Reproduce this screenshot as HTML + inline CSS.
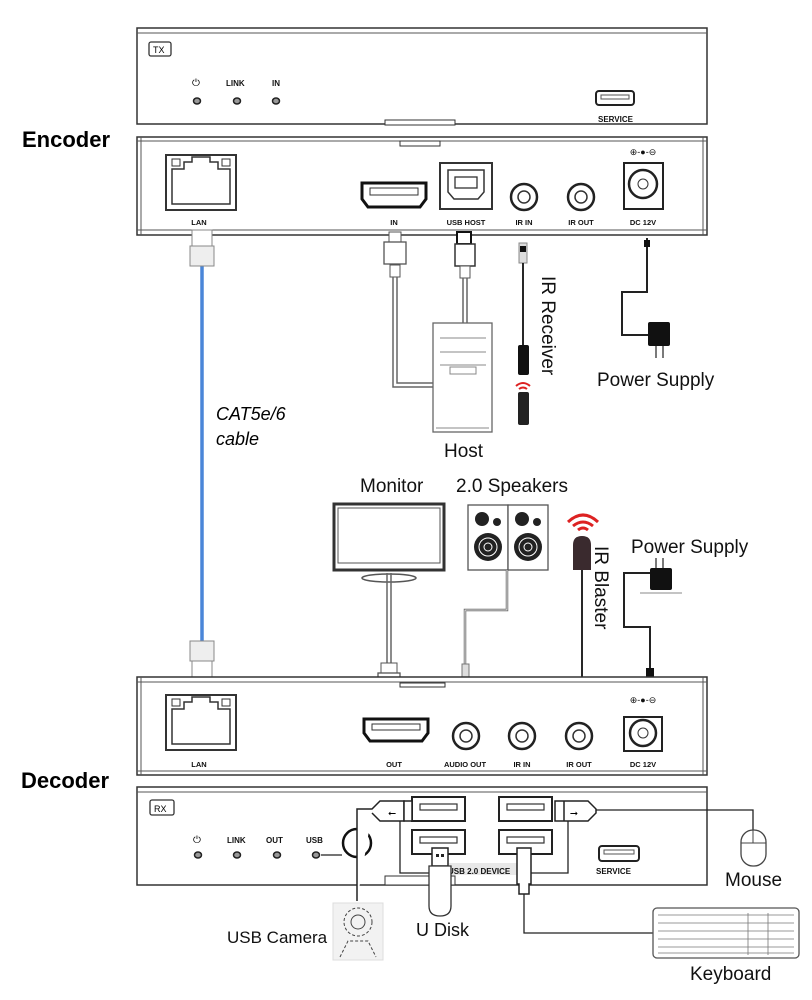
<!DOCTYPE html>
<html><head><meta charset="utf-8"><style>
html,body{margin:0;padding:0;background:#fff;}
svg{display:block;font-family:"Liberation Sans",Arial,sans-serif;}
.s{font-size:8px;font-weight:bold;fill:#111;}
.t{font-size:7.5px;font-weight:bold;fill:#111;text-anchor:middle;}
.l{font-size:19px;fill:#111;}
</style></head><body>
<svg width="812" height="1000" viewBox="0 0 812 1000" xmlns="http://www.w3.org/2000/svg">
<!-- TX front -->
<rect x="137" y="28" width="570" height="96" fill="#fff" stroke="#333" stroke-width="1.5"/>
<line x1="137" y1="33" x2="707" y2="33" stroke="#555"/>
<rect x="385" y="120" width="70" height="5" fill="#fff" stroke="#333"/>
<rect x="149" y="42" width="22" height="14" rx="2" fill="#fff" stroke="#333" stroke-width="1.3"/>
<text x="153" y="53" style="font-size:9px">TX</text>
<text x="192" y="86" style="font-size:10px">⏻</text>
<text x="226" y="86" class="s">LINK</text><text x="272" y="86" class="s">IN</text>
<g fill="#999" stroke="#222" stroke-width="1.5"><ellipse cx="197" cy="101" rx="3.5" ry="3"/><ellipse cx="237" cy="101" rx="3.5" ry="3"/><ellipse cx="276" cy="101" rx="3.5" ry="3"/></g>
<rect x="596" y="91" width="38" height="14" rx="3" fill="#fff" stroke="#222" stroke-width="2"/>
<rect x="601" y="95" width="28" height="4" fill="#fff" stroke="#555"/>
<text x="598" y="122" class="s">SERVICE</text>
<text x="22" y="147" style="font-size:22px;font-weight:bold">Encoder</text>
<!-- Encoder rear -->
<rect x="137" y="137" width="570" height="98" fill="#fff" stroke="#333" stroke-width="1.5"/>
<line x1="137" y1="141" x2="707" y2="141" stroke="#555"/><line x1="137" y1="230" x2="707" y2="230" stroke="#555"/>
<line x1="141" y1="137" x2="141" y2="235" stroke="#555"/><line x1="703" y1="137" x2="703" y2="235" stroke="#555"/>
<rect x="400" y="141" width="40" height="5" fill="#fff" stroke="#333"/>
<rect x="166" y="155" width="70" height="55" fill="#fff" stroke="#333" stroke-width="2"/>
<path d="M172 204V169h12v-7h8v-5h18v5h8v7h12v35z" fill="none" stroke="#333" stroke-width="1.5"/>
<rect x="172" y="159" width="8" height="7" fill="none" stroke="#333"/><rect x="222" y="159" width="8" height="7" fill="none" stroke="#333"/>
<text x="199" y="225" class="t">LAN</text>
<path d="M362 183h64v16l-6 8h-52l-6-8z" fill="#fff" stroke="#111" stroke-width="3"/>
<rect x="370" y="188" width="48" height="7" fill="#fff" stroke="#333"/>
<text x="394" y="225" class="t">IN</text>
<rect x="440" y="163" width="52" height="46" fill="#fff" stroke="#333" stroke-width="2"/>
<path d="M448 170h36v22l-6 7h-24l-6-7z" fill="none" stroke="#333" stroke-width="1.5"/>
<rect x="455" y="177" width="22" height="11" fill="none" stroke="#333" stroke-width="1.3"/>
<text x="466" y="225" class="t">USB HOST</text>
<circle cx="524" cy="197" r="13" fill="#fff" stroke="#222" stroke-width="2.5"/><circle cx="524" cy="197" r="6" fill="#fff" stroke="#333" stroke-width="1.5"/>
<circle cx="581" cy="197" r="13" fill="#fff" stroke="#222" stroke-width="2.5"/><circle cx="581" cy="197" r="6" fill="#fff" stroke="#333" stroke-width="1.5"/>
<text x="524" y="225" class="t">IR IN</text><text x="581" y="225" class="t">IR OUT</text>
<rect x="624" y="163" width="39" height="46" fill="#fff" stroke="#222" stroke-width="2"/>
<circle cx="643" cy="184" r="14" fill="#fff" stroke="#222" stroke-width="2.5"/><circle cx="643" cy="184" r="5" fill="#fff" stroke="#333"/>
<text x="643" y="155" class="t" style="font-weight:normal;font-size:9px">⊕-●-⊖</text>
<text x="643" y="225" class="t">DC 12V</text>
<!-- LAN cable -->
<line x1="202" y1="265" x2="202" y2="645" stroke="#4a86d8" stroke-width="3.5"/>
<rect x="192" y="230" width="20" height="16" fill="#fff" stroke="#888"/>
<rect x="190" y="246" width="24" height="20" fill="#eee" stroke="#888"/>
<rect x="190" y="641" width="24" height="20" fill="#eee" stroke="#888"/>
<rect x="192" y="661" width="20" height="18" fill="#fff" stroke="#888"/>
<text x="216" y="420" style="font-size:18px;font-style:italic">CAT5e/6</text>
<text x="216" y="445" style="font-size:18px;font-style:italic">cable</text>
<!-- HDMI cable to host -->
<rect x="389" y="232" width="12" height="10" fill="#fff" stroke="#555"/>
<rect x="384" y="242" width="22" height="22" fill="#fff" stroke="#555" stroke-width="1.3"/>
<rect x="390" y="265" width="10" height="12" fill="#fff" stroke="#555"/>
<path d="M393 277V387H433M397 277V383H433" fill="none" stroke="#666" stroke-width="1.5"/>
<rect x="457" y="232" width="14" height="12" fill="#fff" stroke="#111" stroke-width="2"/>
<rect x="455" y="244" width="20" height="22" fill="#fff" stroke="#333" stroke-width="1.5"/>
<rect x="460" y="266" width="10" height="12" fill="#fff" stroke="#555"/>
<path d="M463 278V323M467 278V323" stroke="#666" stroke-width="1.5"/>
<rect x="433" y="323" width="59" height="109" fill="#fff" stroke="#666" stroke-width="1.3"/>
<line x1="440" y1="338" x2="486" y2="338" stroke="#888"/><line x1="440" y1="352" x2="486" y2="352" stroke="#888"/><line x1="440" y1="365" x2="486" y2="365" stroke="#888"/>
<rect x="450" y="367" width="26" height="7" fill="none" stroke="#888"/>
<line x1="436" y1="428" x2="489" y2="428" stroke="#888"/>
<text x="444" y="457" class="l">Host</text>
<!-- IR receiver -->
<rect x="519" y="243" width="8" height="20" fill="#ddd" stroke="#888"/><rect x="520" y="246" width="6" height="6" fill="#111"/>
<line x1="523" y1="263" x2="523" y2="345" stroke="#111" stroke-width="1.8"/>
<rect x="518" y="345" width="11" height="30" rx="2" fill="#111"/>
<path d="M516 386q7-6 14 0M519 389q4-3 8 0" fill="none" stroke="#d22" stroke-width="2"/>
<rect x="518" y="392" width="11" height="33" rx="2" fill="#222"/>
<text transform="translate(542,276) rotate(90)" class="l">IR Receiver</text>
<!-- Power supply 1 -->
<path d="M647 238V292H622V335H650" fill="none" stroke="#222" stroke-width="2"/>
<rect x="644" y="240" width="6" height="7" fill="#111"/>
<rect x="648" y="322" width="22" height="24" rx="2" fill="#111"/>
<path d="M656 346v12M663 346v12" stroke="#333" stroke-width="1.3"/>
<text x="597" y="386" class="l">Power Supply</text>
<!-- Monitor -->
<text x="360" y="492" class="l">Monitor</text>
<rect x="334" y="504" width="110" height="66" fill="#fff" stroke="#333" stroke-width="3"/>
<rect x="338" y="508" width="102" height="55" fill="#fff" stroke="#555"/>
<ellipse cx="389" cy="578" rx="27" ry="4" fill="#fff" stroke="#555" stroke-width="1.5"/>
<path d="M387 573V665M391 573V665" stroke="#666" stroke-width="1.5"/>
<rect x="381" y="663" width="16" height="10" fill="#fff" stroke="#555"/>
<rect x="378" y="673" width="22" height="24" fill="#fff" stroke="#555" stroke-width="1.3"/>
<rect x="383" y="697" width="12" height="14" fill="#fff" stroke="#555"/>
<!-- speakers -->
<text x="456" y="492" class="l">2.0 Speakers</text>
<rect x="468" y="505" width="40" height="65" fill="#fff" stroke="#555" stroke-width="1.3"/>
<rect x="508" y="505" width="40" height="65" fill="#fff" stroke="#555" stroke-width="1.3"/>
<g fill="#222"><circle cx="482" cy="519" r="7"/><circle cx="497" cy="522" r="4"/><circle cx="488" cy="547" r="14"/><circle cx="522" cy="519" r="7"/><circle cx="537" cy="522" r="4"/><circle cx="528" cy="547" r="14"/></g>
<g fill="none" stroke="#fff"><circle cx="488" cy="547" r="9"/><circle cx="488" cy="547" r="4"/><circle cx="528" cy="547" r="9"/><circle cx="528" cy="547" r="4"/></g>
<path d="M507 570V610H465V665" fill="none" stroke="#666" stroke-width="2.5"/>
<path d="M507 570V610H465V665" fill="none" stroke="#fff" stroke-width="0.8"/>
<rect x="462" y="664" width="7" height="36" fill="#ddd" stroke="#777"/><rect x="463" y="683" width="5" height="14" fill="#222"/>
<!-- IR blaster -->
<path d="M568 522q15-14 30 0M573 526q10-8 20 0M578 530q5-4 10 0" fill="none" stroke="#d22" stroke-width="3"/>
<path d="M573 570v-25q0-9 9-9t9 9v25z" fill="#3a2a2e"/>
<line x1="582" y1="570" x2="582" y2="685" stroke="#111" stroke-width="1.8"/>
<rect x="578" y="688" width="8" height="12" fill="#111"/>
<text transform="translate(595,546) rotate(90)" class="l">IR Blaster</text>
<!-- Power supply 2 -->
<text x="631" y="553" class="l">Power Supply</text>
<path d="M650 573H624V627H650V675" fill="none" stroke="#222" stroke-width="2"/>
<rect x="650" y="568" width="22" height="22" rx="2" fill="#111"/>
<path d="M656 568v-10M663 568v-10" stroke="#333" stroke-width="1.3"/>
<line x1="640" y1="593" x2="682" y2="593" stroke="#888"/>
<rect x="646" y="668" width="8" height="10" fill="#111"/>
<!-- Decoder rear -->
<text x="21" y="788" style="font-size:22px;font-weight:bold">Decoder</text>
<rect x="137" y="677" width="570" height="98" fill="#fff" stroke="#333" stroke-width="1.5"/>
<line x1="137" y1="682" x2="707" y2="682" stroke="#555"/><line x1="137" y1="771" x2="707" y2="771" stroke="#555"/>
<line x1="141" y1="677" x2="141" y2="775" stroke="#555"/><line x1="703" y1="677" x2="703" y2="775" stroke="#555"/>
<rect x="400" y="683" width="45" height="4" fill="#fff" stroke="#333"/>
<rect x="166" y="695" width="70" height="55" fill="#fff" stroke="#333" stroke-width="2"/>
<path d="M172 744V709h12v-7h8v-5h18v5h8v7h12v35z" fill="none" stroke="#333" stroke-width="1.5"/>
<rect x="172" y="699" width="8" height="7" fill="none" stroke="#333"/><rect x="222" y="699" width="8" height="7" fill="none" stroke="#333"/>
<text x="199" y="767" class="t">LAN</text>
<path d="M364 719h64v14l-6 8h-52l-6-8z" fill="#fff" stroke="#111" stroke-width="3"/>
<rect x="372" y="724" width="48" height="6" fill="#fff" stroke="#333"/>
<text x="394" y="767" class="t">OUT</text>
<circle cx="466" cy="736" r="13" fill="#fff" stroke="#222" stroke-width="2.5"/><circle cx="466" cy="736" r="6" fill="#fff" stroke="#333" stroke-width="1.5"/>
<circle cx="522" cy="736" r="13" fill="#fff" stroke="#222" stroke-width="2.5"/><circle cx="522" cy="736" r="6" fill="#fff" stroke="#333" stroke-width="1.5"/>
<circle cx="579" cy="736" r="13" fill="#fff" stroke="#222" stroke-width="2.5"/><circle cx="579" cy="736" r="6" fill="#fff" stroke="#333" stroke-width="1.5"/>
<text x="465" y="767" class="t">AUDIO OUT</text><text x="522" y="767" class="t">IR IN</text><text x="579" y="767" class="t">IR OUT</text>
<rect x="624" y="717" width="38" height="34" fill="#fff" stroke="#222" stroke-width="2"/>
<circle cx="643" cy="733" r="13" fill="#fff" stroke="#222" stroke-width="2.5"/><circle cx="643" cy="733" r="5" fill="#fff" stroke="#333"/>
<text x="643" y="703" class="t" style="font-weight:normal;font-size:9px">⊕-●-⊖</text>
<text x="643" y="767" class="t">DC 12V</text>
<!-- RX front -->
<rect x="137" y="787" width="570" height="98" fill="#fff" stroke="#333" stroke-width="1.5"/>
<line x1="137" y1="792" x2="707" y2="792" stroke="#555"/>
<rect x="385" y="876" width="70" height="9" fill="#fff" stroke="#333"/>
<rect x="150" y="800" width="24" height="15" rx="2" fill="#fff" stroke="#333" stroke-width="1.3"/>
<text x="154" y="812" style="font-size:9px">RX</text>
<text x="193" y="843" style="font-size:10px">⏻</text>
<text x="227" y="843" class="s">LINK</text><text x="266" y="843" class="s">OUT</text><text x="306" y="843" class="s">USB</text>
<g fill="#999" stroke="#222" stroke-width="1.5"><ellipse cx="198" cy="855" rx="3.5" ry="3"/><ellipse cx="237" cy="855" rx="3.5" ry="3"/><ellipse cx="277" cy="855" rx="3.5" ry="3"/><ellipse cx="316" cy="855" rx="3.5" ry="3"/></g>
<line x1="321" y1="855" x2="342" y2="855" stroke="#222" stroke-width="1.3"/>
<circle cx="357" cy="843" r="14" fill="none" stroke="#111" stroke-width="2.5"/>
<g fill="#fff" stroke="#222" stroke-width="2">
<rect x="412" y="797" width="53" height="24"/><rect x="499" y="797" width="53" height="24"/>
<rect x="412" y="830" width="53" height="24"/><rect x="499" y="830" width="53" height="24"/></g>
<g fill="#fff" stroke="#333" stroke-width="1.2">
<rect x="420" y="804" width="37" height="6"/><rect x="507" y="804" width="37" height="6"/>
<rect x="420" y="837" width="37" height="6"/><rect x="507" y="837" width="37" height="6"/></g>
<!-- USB plugs left and right -->
<path d="M357 901V809H372l8-8h24v20h-24l-8-8" fill="#fff" stroke="#222" stroke-width="1.5"/>
<path d="M404 801h8v20h-8z" fill="#fff" stroke="#222" stroke-width="1.5"/>
<text x="388" y="816" style="font-size:10px">⭠</text>
<path d="M555 801h9v20h-9zM564 801h24l8 8v4l-8 8h-24" fill="#fff" stroke="#222" stroke-width="1.5"/>
<text x="570" y="816" style="font-size:10px">⭢</text>
<path d="M596 810H753V830" fill="none" stroke="#222" stroke-width="1.3"/>
<path d="M400 821V873H449M568 821V873H530" fill="none" stroke="#222" stroke-width="1.3"/>
<rect x="449" y="863" width="76" height="12" fill="#e8e8e8"/>
<text x="448" y="874" class="s">USB 2.0 DEVICE</text>
<!-- keyboard plug -->
<path d="M517 848h14v36h-2v10h-10v-10h-2z" fill="#fff" stroke="#222" stroke-width="1.5"/>
<path d="M524 894V933H655" fill="none" stroke="#222" stroke-width="1.3"/>
<!-- U disk -->
<rect x="432" y="848" width="16" height="18" fill="#fff" stroke="#222" stroke-width="1.5"/>
<rect x="436" y="854" width="3" height="3" fill="#222"/><rect x="441" y="854" width="3" height="3" fill="#222"/>
<path d="M429 866h22v40q0 10-11 10t-11-10z" fill="#fff" stroke="#333" stroke-width="1.3"/>
<text x="416" y="936" class="l" style="font-size:18px">U Disk</text>
<rect x="599" y="846" width="40" height="15" rx="3" fill="#fff" stroke="#222" stroke-width="2"/>
<rect x="604" y="850" width="30" height="4" fill="#fff" stroke="#555"/>
<text x="596" y="874" class="s">SERVICE</text>
<!-- Camera -->
<rect x="333" y="903" width="50" height="57" fill="#f2f2f2" stroke="#ddd"/>
<circle cx="358" cy="922" r="14" fill="none" stroke="#444" stroke-dasharray="3 2"/>
<circle cx="358" cy="922" r="7" fill="none" stroke="#444"/>
<path d="M340 957l8-16h20l8 16" fill="none" stroke="#444" stroke-dasharray="3 2"/>
<text x="227" y="943" class="l" style="font-size:17px">USB Camera</text>
<!-- Mouse -->
<rect x="741" y="830" width="25" height="36" rx="12" fill="#fff" stroke="#444" stroke-width="1.3"/>
<line x1="741" y1="843" x2="766" y2="843" stroke="#444"/><line x1="753" y1="830" x2="753" y2="843" stroke="#444"/>
<text x="725" y="886" class="l">Mouse</text>
<!-- Keyboard -->
<rect x="653" y="908" width="146" height="50" rx="4" fill="#fff" stroke="#555" stroke-width="1.3"/>
<g stroke="#777" stroke-width="0.8">
<line x1="658" y1="915" x2="794" y2="915"/><line x1="658" y1="923" x2="794" y2="923"/><line x1="658" y1="931" x2="794" y2="931"/><line x1="658" y1="939" x2="794" y2="939"/><line x1="658" y1="947" x2="794" y2="947"/><line x1="658" y1="953" x2="794" y2="953"/>
<line x1="748" y1="913" x2="748" y2="955"/><line x1="768" y1="913" x2="768" y2="955"/></g>
<text x="690" y="980" class="l">Keyboard</text>
</svg>
</body></html>
